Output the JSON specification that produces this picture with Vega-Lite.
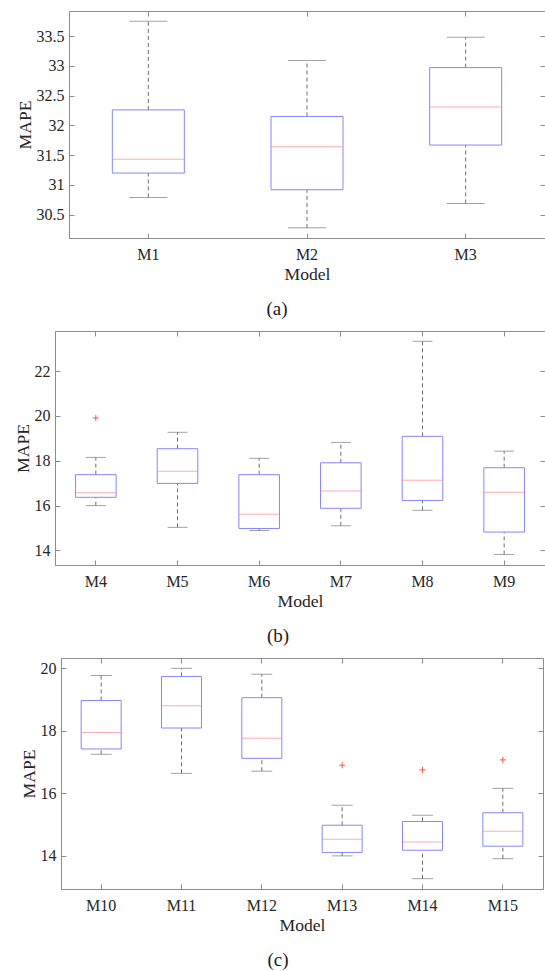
{
  "$schema": "https://vega.github.io/schema/vega-lite/v6.json",
  "padding": {"left": 0, "top": 10, "right": 0, "bottom": 0},
  "spacing": 10,
  "datasets": {
    "a": [
      {"model": "M1", "lo": 30.79, "q1": 31.20, "med": 31.43, "q3": 32.26, "hi": 33.75},
      {"model": "M2", "lo": 30.28, "q1": 30.92, "med": 31.64, "q3": 32.15, "hi": 33.09},
      {"model": "M3", "lo": 30.69, "q1": 31.67, "med": 32.31, "q3": 32.97, "hi": 33.48}
    ],
    "b": [
      {"model": "M4", "lo": 16.00, "q1": 16.37, "med": 16.57, "q3": 17.38, "hi": 18.15},
      {"model": "M5", "lo": 15.03, "q1": 16.99, "med": 17.53, "q3": 18.54, "hi": 19.27},
      {"model": "M6", "lo": 14.89, "q1": 14.98, "med": 15.61, "q3": 17.38, "hi": 18.11},
      {"model": "M7", "lo": 15.10, "q1": 15.88, "med": 16.65, "q3": 17.91, "hi": 18.82},
      {"model": "M8", "lo": 15.79, "q1": 16.23, "med": 17.13, "q3": 19.09, "hi": 23.33},
      {"model": "M9", "lo": 13.82, "q1": 14.82, "med": 16.60, "q3": 17.69, "hi": 18.43}
    ],
    "bo": [
      {"model": "M4", "out": 19.91}
    ],
    "c": [
      {"model": "M10", "lo": 17.24, "q1": 17.41, "med": 17.94, "q3": 18.96, "hi": 19.76},
      {"model": "M11", "lo": 16.63, "q1": 18.08, "med": 18.79, "q3": 19.73, "hi": 19.99},
      {"model": "M12", "lo": 16.70, "q1": 17.11, "med": 17.75, "q3": 19.05, "hi": 19.80},
      {"model": "M13", "lo": 13.99, "q1": 14.10, "med": 14.52, "q3": 14.97, "hi": 15.61},
      {"model": "M14", "lo": 13.26, "q1": 14.17, "med": 14.43, "q3": 15.09, "hi": 15.29},
      {"model": "M15", "lo": 13.90, "q1": 14.30, "med": 14.78, "q3": 15.37, "hi": 16.15}
    ],
    "co": [
      {"model": "M13", "out": 16.89},
      {"model": "M14", "out": 16.74},
      {"model": "M15", "out": 17.06}
    ],
    "blank": [{"t": ""}]
  },
  "vconcat": [
    {
      "spacing": 0,
      "hconcat": [
        {
          "width": 14.1, "height": 40,
          "view": {"stroke": "transparent"},
          "data": {"name": "blank"},
          "mark": {"type": "text", "text": ""},
          "encoding": {}
        },
        {
          "width": 476,
          "height": 227,
          "title": {"text": "(a)", "orient": "bottom", "offset": 17, "dx": -30},
          "data": {"name": "a"},
          "layer": [
            {
              "mark": {"type": "rule", "color": "#6e6e6e", "strokeDash": [4, 3], "strokeWidth": 1},
              "encoding": {
                "x": {"field": "model", "type": "nominal", "sort": null, "scale": {"paddingInner": 0, "paddingOuter": 0},
                      "axis": {"orient": "bottom", "title": "Model", "labelAngle": 0, "tickSize": -5, "labelPadding": 13, "titlePadding": 3}},
                "y": {"field": "lo", "type": "quantitative", "scale": {"domain": [30.11, 33.92], "nice": false, "zero": false},
                      "axis": {"orient": "left", "title": "MAPE", "values": [30.5, 31, 31.5, 32, 32.5, 33, 33.5], "format": "~g", "tickSize": -5, "labelPadding": 10, "minExtent": 33.4, "maxExtent": 33.4, "titlePadding": 1}},
                "y2": {"field": "q1"}
              }
            },
            {
              "mark": {"type": "rule", "color": "#6e6e6e", "strokeDash": [4, 3], "strokeWidth": 1},
              "encoding": {
                "x": {"field": "model", "type": "nominal", "sort": null, "scale": {"paddingInner": 0, "paddingOuter": 0},
                      "axis": {"orient": "top", "title": null, "labels": false, "domain": false, "tickSize": -5}},
                "y": {"field": "q3", "type": "quantitative", "scale": {"domain": [30.11, 33.92], "nice": false, "zero": false},
                      "axis": {"orient": "right", "title": null, "labels": false, "domain": false, "values": [30.5, 31, 31.5, 32, 32.5, 33, 33.5], "tickSize": -5}},
                "y2": {"field": "hi"}
              }
            },
            {
              "mark": {"type": "tick", "color": "#7a7a7a", "size": 38, "thickness": 1},
              "encoding": {
                "x": {"field": "model", "type": "nominal", "sort": null, "axis": null},
                "y": {"field": "lo", "type": "quantitative", "scale": {"domain": [30.11, 33.92], "nice": false, "zero": false}, "axis": null}
              }
            },
            {
              "mark": {"type": "tick", "color": "#7a7a7a", "size": 38, "thickness": 1},
              "encoding": {
                "x": {"field": "model", "type": "nominal", "sort": null, "axis": null},
                "y": {"field": "hi", "type": "quantitative", "scale": {"domain": [30.11, 33.92], "nice": false, "zero": false}, "axis": null}
              }
            },
            {
              "mark": {"type": "bar", "width": 72, "fill": "white", "fillOpacity": 0, "stroke": "#8585ff", "strokeWidth": 1},
              "encoding": {
                "x": {"field": "model", "type": "nominal", "sort": null, "axis": null},
                "y": {"field": "q1", "type": "quantitative", "scale": {"domain": [30.11, 33.92], "nice": false, "zero": false}, "axis": null},
                "y2": {"field": "q3"}
              }
            },
            {
              "mark": {"type": "tick", "color": "#ff8a8a", "size": 72, "thickness": 1},
              "encoding": {
                "x": {"field": "model", "type": "nominal", "sort": null, "axis": null},
                "y": {"field": "med", "type": "quantitative", "scale": {"domain": [30.11, 33.92], "nice": false, "zero": false}, "axis": null}
              }
            }
          ],
          "resolve": {"axis": {"x": "independent", "y": "independent"}}
        }
      ]
    },
    {
      "spacing": 0,
      "hconcat": [
        {
          "width": 11.3, "height": 40,
          "view": {"stroke": "transparent"},
          "data": {"name": "blank"},
          "mark": {"type": "text", "text": ""},
          "encoding": {}
        },
        {
          "width": 490,
          "height": 234,
          "title": {"text": "(b)", "orient": "bottom", "offset": 17, "dx": -22},
          "data": {"name": "b"},
          "layer": [
            {
              "mark": {"type": "rule", "color": "#6e6e6e", "strokeDash": [4, 3], "strokeWidth": 1},
              "encoding": {
                "x": {"field": "model", "type": "nominal", "sort": null, "scale": {"paddingInner": 0, "paddingOuter": 0},
                      "axis": {"orient": "bottom", "title": "Model", "labelAngle": 0, "tickSize": -5, "labelPadding": 13, "titlePadding": 3}},
                "y": {"field": "lo", "type": "quantitative", "scale": {"domain": [13.35, 23.79], "nice": false, "zero": false},
                      "axis": {"orient": "left", "title": "MAPE", "values": [14, 16, 18, 20, 22], "format": "~g", "tickSize": -5, "labelPadding": 10, "minExtent": 21.7, "maxExtent": 21.7, "titlePadding": 1}},
                "y2": {"field": "q1"}
              }
            },
            {
              "mark": {"type": "rule", "color": "#6e6e6e", "strokeDash": [4, 3], "strokeWidth": 1},
              "encoding": {
                "x": {"field": "model", "type": "nominal", "sort": null, "scale": {"paddingInner": 0, "paddingOuter": 0},
                      "axis": {"orient": "top", "title": null, "labels": false, "domain": false, "tickSize": -5}},
                "y": {"field": "q3", "type": "quantitative", "scale": {"domain": [13.35, 23.79], "nice": false, "zero": false},
                      "axis": {"orient": "right", "title": null, "labels": false, "domain": false, "values": [14, 16, 18, 20, 22], "tickSize": -5}},
                "y2": {"field": "hi"}
              }
            },
            {
              "mark": {"type": "tick", "color": "#7a7a7a", "size": 20, "thickness": 1},
              "encoding": {
                "x": {"field": "model", "type": "nominal", "sort": null, "axis": null},
                "y": {"field": "lo", "type": "quantitative", "scale": {"domain": [13.35, 23.79], "nice": false, "zero": false}, "axis": null}
              }
            },
            {
              "mark": {"type": "tick", "color": "#7a7a7a", "size": 20, "thickness": 1},
              "encoding": {
                "x": {"field": "model", "type": "nominal", "sort": null, "axis": null},
                "y": {"field": "hi", "type": "quantitative", "scale": {"domain": [13.35, 23.79], "nice": false, "zero": false}, "axis": null}
              }
            },
            {
              "mark": {"type": "bar", "width": 40.6, "fill": "white", "fillOpacity": 0, "stroke": "#8585ff", "strokeWidth": 1},
              "encoding": {
                "x": {"field": "model", "type": "nominal", "sort": null, "axis": null},
                "y": {"field": "q1", "type": "quantitative", "scale": {"domain": [13.35, 23.79], "nice": false, "zero": false}, "axis": null},
                "y2": {"field": "q3"}
              }
            },
            {
              "mark": {"type": "tick", "color": "#ff8a8a", "size": 40.6, "thickness": 1},
              "encoding": {
                "x": {"field": "model", "type": "nominal", "sort": null, "axis": null},
                "y": {"field": "med", "type": "quantitative", "scale": {"domain": [13.35, 23.79], "nice": false, "zero": false}, "axis": null}
              }
            },
            {
              "data": {"name": "bo"},
              "mark": {"type": "point", "shape": "M-1,0L1,0M0,-1L0,1", "filled": false, "stroke": "#ff5050", "strokeWidth": 1, "size": 36, "opacity": 1},
              "encoding": {
                "x": {"field": "model", "type": "nominal", "sort": null, "axis": null},
                "y": {"field": "out", "type": "quantitative", "scale": {"domain": [13.35, 23.79], "nice": false, "zero": false}, "axis": null}
              }
            }
          ],
          "resolve": {"axis": {"x": "independent", "y": "independent"}}
        }
      ]
    },
    {
      "spacing": 0,
      "hconcat": [
        {
          "width": 17.6, "height": 40,
          "view": {"stroke": "transparent"},
          "data": {"name": "blank"},
          "mark": {"type": "text", "text": ""},
          "encoding": {}
        },
        {
          "width": 482,
          "height": 231,
          "title": {"text": "(c)", "orient": "bottom", "offset": 17, "dx": -24},
          "data": {"name": "c"},
          "layer": [
            {
              "mark": {"type": "rule", "color": "#6e6e6e", "strokeDash": [4, 3], "strokeWidth": 1},
              "encoding": {
                "x": {"field": "model", "type": "nominal", "sort": null, "scale": {"paddingInner": 0, "paddingOuter": 0},
                      "axis": {"orient": "bottom", "title": "Model", "labelAngle": 0, "tickSize": -5, "labelPadding": 13, "titlePadding": 3}},
                "y": {"field": "lo", "type": "quantitative", "scale": {"domain": [12.93, 20.32], "nice": false, "zero": false},
                      "axis": {"orient": "left", "title": "MAPE", "values": [14, 16, 18, 20], "format": "~g", "tickSize": -5, "labelPadding": 10, "minExtent": 21.2, "maxExtent": 21.2, "titlePadding": 1}},
                "y2": {"field": "q1"}
              }
            },
            {
              "mark": {"type": "rule", "color": "#6e6e6e", "strokeDash": [4, 3], "strokeWidth": 1},
              "encoding": {
                "x": {"field": "model", "type": "nominal", "sort": null, "scale": {"paddingInner": 0, "paddingOuter": 0},
                      "axis": {"orient": "top", "title": null, "labels": false, "domain": false, "tickSize": -5}},
                "y": {"field": "q3", "type": "quantitative", "scale": {"domain": [12.93, 20.32], "nice": false, "zero": false},
                      "axis": {"orient": "right", "title": null, "labels": false, "domain": false, "values": [14, 16, 18, 20], "tickSize": -5}},
                "y2": {"field": "hi"}
              }
            },
            {
              "mark": {"type": "tick", "color": "#7a7a7a", "size": 21, "thickness": 1},
              "encoding": {
                "x": {"field": "model", "type": "nominal", "sort": null, "axis": null},
                "y": {"field": "lo", "type": "quantitative", "scale": {"domain": [12.93, 20.32], "nice": false, "zero": false}, "axis": null}
              }
            },
            {
              "mark": {"type": "tick", "color": "#7a7a7a", "size": 21, "thickness": 1},
              "encoding": {
                "x": {"field": "model", "type": "nominal", "sort": null, "axis": null},
                "y": {"field": "hi", "type": "quantitative", "scale": {"domain": [12.93, 20.32], "nice": false, "zero": false}, "axis": null}
              }
            },
            {
              "mark": {"type": "bar", "width": 40, "fill": "white", "fillOpacity": 0, "stroke": "#8585ff", "strokeWidth": 1},
              "encoding": {
                "x": {"field": "model", "type": "nominal", "sort": null, "axis": null},
                "y": {"field": "q1", "type": "quantitative", "scale": {"domain": [12.93, 20.32], "nice": false, "zero": false}, "axis": null},
                "y2": {"field": "q3"}
              }
            },
            {
              "mark": {"type": "tick", "color": "#ff8a8a", "size": 40, "thickness": 1},
              "encoding": {
                "x": {"field": "model", "type": "nominal", "sort": null, "axis": null},
                "y": {"field": "med", "type": "quantitative", "scale": {"domain": [12.93, 20.32], "nice": false, "zero": false}, "axis": null}
              }
            },
            {
              "data": {"name": "co"},
              "mark": {"type": "point", "shape": "M-1,0L1,0M0,-1L0,1", "filled": false, "stroke": "#ff5050", "strokeWidth": 1, "size": 36, "opacity": 1},
              "encoding": {
                "x": {"field": "model", "type": "nominal", "sort": null, "axis": null},
                "y": {"field": "out", "type": "quantitative", "scale": {"domain": [12.93, 20.32], "nice": false, "zero": false}, "axis": null}
              }
            }
          ],
          "resolve": {"axis": {"x": "independent", "y": "independent"}}
        }
      ]
    }
  ],
  "config": {
    "font": "'Liberation Serif', serif",
    "view": {"stroke": "#8c8c8c", "strokeWidth": 1},
    "axis": {
      "domainColor": "#8c8c8c", "tickColor": "#8c8c8c", "labelColor": "#262626", "titleColor": "#262626",
      "labelFont": "'Liberation Serif', serif", "titleFont": "'Liberation Serif', serif",
      "labelFontSize": 16, "titleFontSize": 17.6, "titleFontWeight": "normal", "grid": false
    },
    "title": {"font": "'Liberation Serif', serif", "fontSize": 19, "fontWeight": "normal", "color": "#1a1a1a"}
  }
}
